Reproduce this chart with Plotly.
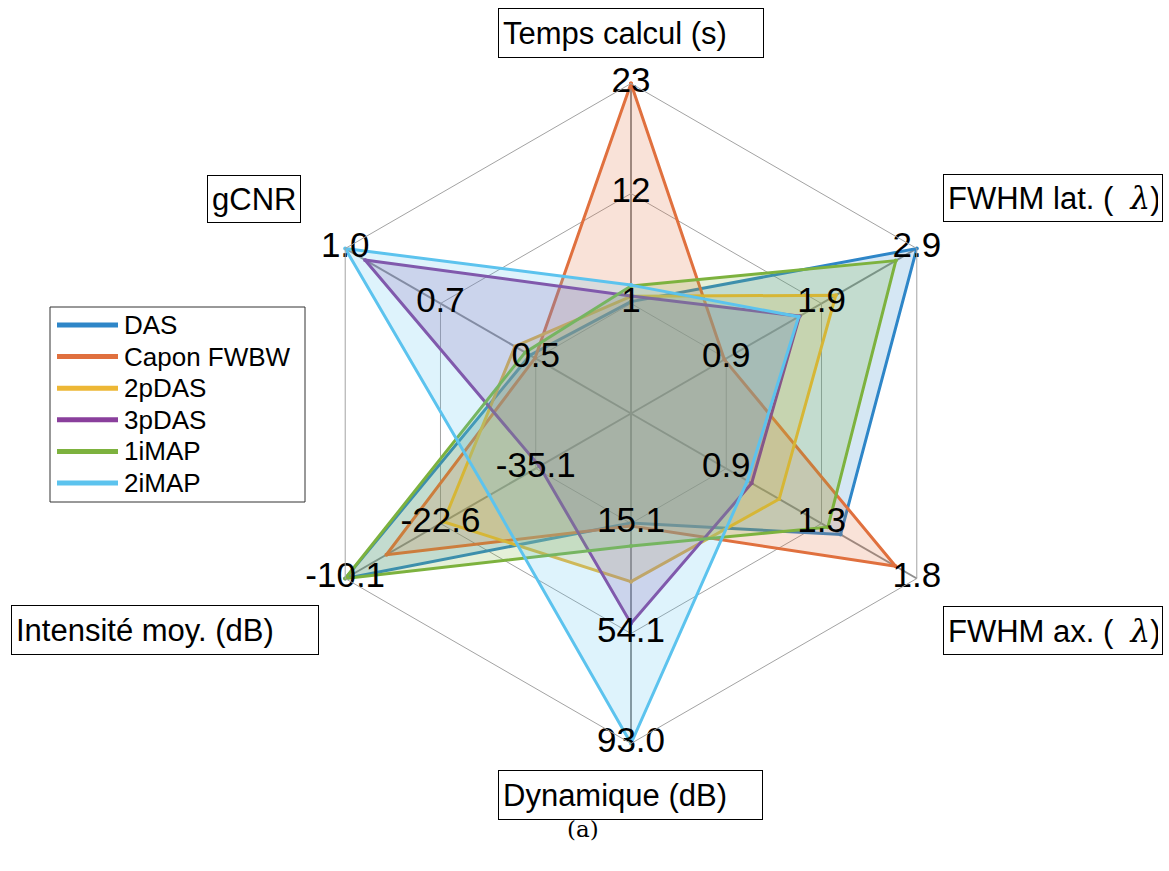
import plotly.graph_objects as go

# ---------------- data ----------------
AXIS_TITLES = ["Temps calcul (s)", "FWHM lat. (λ)", "FWHM ax. (λ)",
               "Dynamique (dB)", "Intensité moy. (dB)", "gCNR"]
AXIS_MIN = [1.0, 0.9, 0.9, 15.1, -35.1, 0.46]
AXIS_MAX = [23.0, 2.9, 1.8, 93.0, -10.1, 1.0]
TICK_LABELS = [["1", "12", "23"],
               ["0.9", "1.9", "2.9"],
               ["0.9", "1.3", "1.8"],
               ["15.1", "54.1", "93.0"],
               ["-35.1", "-22.6", "-10.1"],
               ["0.5", "0.7", "1.0"]]

SERIES_NAMES = ["DAS", "Capon FWBW", "2pDAS", "3pDAS", "1iMAP", "2iMAP"]
DAS = [1.19, 2.90, 1.44, 14.9, -10.1, 0.476]
CAPON = [23.0, 0.88, 1.70, 16.0, -15.5, 0.462]
P2DAS = [1.72, 2.05, 1.15, 35.7, -23.0, 0.519]
P3DAS = [1.75, 1.67, 1.02, 50.5, -35.6, 0.944]
IMAP1 = [2.74, 2.68, 1.38, 23.1, -10.1, 0.490]
IMAP2 = [2.84, 1.66, 1.00, 93.0, -29.0, 1.000]
SERIES_VALUES = [DAS, CAPON, P2DAS, P3DAS, IMAP1, IMAP2]
COLORS = ["#2E86C8", "#E0703E", "#EDB735", "#8A3F9C", "#7DB23E", "#5CC3EE"]

# ---------------- helpers ----------------
N_INTERVAL = 2  # rings between min and max
OFFSET = 1      # rings between centre and min


def norm(v, i):
    """map value of axis i onto the shared radial scale 0..1"""
    frac = (v - AXIS_MIN[i]) / (AXIS_MAX[i] - AXIS_MIN[i])
    return (OFFSET + N_INTERVAL * frac) / (OFFSET + N_INTERVAL)


def hex_to_rgba(h, a):
    h = h.lstrip("#")
    return "rgba(%d,%d,%d,%.2f)" % (int(h[0:2], 16), int(h[2:4], 16), int(h[4:6], 16), a)


THETA = ["a%d" % i for i in range(len(AXIS_TITLES))]

W, H = 1169, 871
CX, CY, R = 631, 413.5, 330
FONT = "Liberation Sans, Arial"

fig = go.Figure()

# filled series
for name, vals, col in zip(SERIES_NAMES, SERIES_VALUES, COLORS):
    r = [norm(v, i) for i, v in enumerate(vals)]
    fig.add_trace(go.Scatterpolar(
        r=r + [r[0]], theta=THETA + [THETA[0]],
        mode="lines+markers", fill="toself",
        fillcolor=hex_to_rgba(col, 0.2),
        line=dict(color=col, width=3),
        marker=dict(color=col, size=4),
        name=name, showlegend=False, hoverinfo="skip"))

# tick labels on each axis
tr, tt, tx = [], [], []
for i in range(len(AXIS_TITLES)):
    for k, lab in enumerate(TICK_LABELS[i]):
        tr.append((OFFSET + k) / (OFFSET + N_INTERVAL))
        tt.append(THETA[i])
        tx.append(lab)
fig.add_trace(go.Scatterpolar(
    r=tr, theta=tt, text=tx, mode="text", textposition="middle center",
    textfont=dict(family=FONT, size=35, color="black"),
    showlegend=False, hoverinfo="skip"))

fig.update_layout(
    width=W, height=H,
    margin=dict(l=0, r=0, t=0, b=0),
    paper_bgcolor="white",
    showlegend=False,
    font=dict(family=FONT, color="black"),
    polar=dict(
        domain=dict(x=[(CX - R) / W, (CX + R) / W],
                    y=[(H - CY - R) / H, (H - CY + R) / H]),
        bgcolor="white",
        gridshape="linear",
        radialaxis=dict(range=[0, 1], tickvals=[1 / 3, 2 / 3, 1],
                        showticklabels=False, ticks="", showline=False,
                        gridcolor="#a3a3a3", gridwidth=1),
        angularaxis=dict(type="category", categoryarray=THETA,
                         rotation=90, direction="clockwise",
                         showticklabels=False, ticks="",
                         showline=True, linecolor="#a3a3a3", linewidth=1,
                         gridcolor="#8f8f8f", gridwidth=2),
    ),
)

# ---- legend box (drawn in paper pixels) ----
LEG_L, LEG_T, LEG_R, LEG_B = 50, 307, 305, 502
ROW0, ROW_STEP = 325, 31.6


def px(x):
    return x / W


def py(y):
    return 1 - y / H


fig.add_shape(type="rect", xref="paper", yref="paper",
              x0=px(LEG_L), x1=px(LEG_R), y0=py(LEG_T), y1=py(LEG_B),
              line=dict(color="#333333", width=1), fillcolor="white", layer="above")
for k, (name, col) in enumerate(zip(SERIES_NAMES, COLORS)):
    yy = ROW0 + k * ROW_STEP
    fig.add_shape(type="line", xref="paper", yref="paper",
                  x0=px(57), x1=px(118), y0=py(yy), y1=py(yy),
                  line=dict(color=col, width=5), layer="above")
    fig.add_annotation(x=px(122), y=py(yy), xref="paper", yref="paper",
                       xanchor="left", yanchor="middle", showarrow=False,
                       text=name, font=dict(size=26, family=FONT, color="black"))

LAM = "<span style='font-family:DejaVu Serif'><i>λ</i></span>"
BOXES = [  # title text, left, top, right, bottom (px)
    ("Temps calcul (s)", 498, 8, 764, 58),
    ("FWHM lat. (  " + LAM + ")", 943, 174, 1163, 222),
    ("FWHM ax. (  " + LAM + ")", 943, 606, 1163, 655),
    ("Dynamique (dB)", 498, 770, 763, 820),
    ("Intensité moy. (dB)", 11, 605, 319, 655),
]
for txt, l, t, r_, b in BOXES:
    fig.add_annotation(
        x=px(l), y=py(t), xref="paper", yref="paper",
        xanchor="left", yanchor="top", showarrow=False,
        text=txt, align="left", valign="middle",
        width=r_ - l - 10, height=b - t - 10,
        bordercolor="black", borderwidth=1, borderpad=4, bgcolor="white",
        font=dict(size=31, family=FONT, color="black"))

# gCNR box: auto width, centred
fig.add_annotation(
    x=px(254), y=py(175), xref="paper", yref="paper",
    xanchor="center", yanchor="top", showarrow=False,
    text="gCNR", height=38, borderpad=4,
    bordercolor="black", borderwidth=1, bgcolor="white",
    font=dict(size=31, family=FONT, color="black"))

fig.add_annotation(x=px(583), y=py(829), xref="paper", yref="paper",
                   xanchor="center", yanchor="middle",
                   showarrow=False, text="(a)",
                   font=dict(size=23, family="DejaVu Serif", color="black"))

fig.write_html("out.html", config={"displayModeBar": False},
               post_script="document.body.style.margin='0px';")
